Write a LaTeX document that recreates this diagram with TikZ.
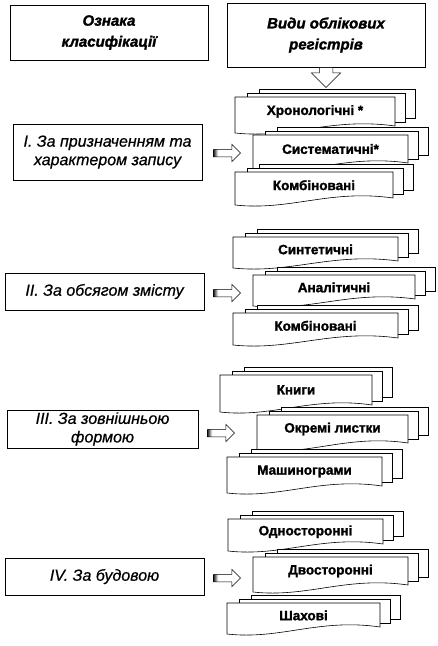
\documentclass[tikz,border=0pt]{standalone}
\usepackage{fontspec}
\setmainfont{Liberation Sans}
\newfontfamily\heavyfont[FakeBold=1.6]{Liberation Sans}
\newfontfamily\thickfont[FakeBold=0.6]{Liberation Sans}
\usetikzlibrary{positioning,shapes.arrows}

% dark tail of the block arrows
\pgfdeclarehorizontalshading{tailshade}{100bp}{color(0bp)=(black!85); color(25bp)=(black!85); color(29bp)=(black!45); color(33bp)=(white); color(100bp)=(white)}

% stacked register sheets: name, x, y top, width, height, text
\newcommand{\regdoc}[6]{%
  \foreach \k in {2,1}{
    \draw[page] ({#2+12*\k},{#3-4*\k}) rectangle ({#2+#4+10*\k},{#3+#5-7-4*\k});
  }
  \draw[page] (#2,#3) -- ({#2+#4},#3) -- ({#2+#4},{#3+#5-7})
    .. controls ({#2+0.6*#4},{#3+#5-16}) and ({#2+0.35*#4},{#3+#5+6}) .. (#2,{#3+#5}) -- cycle;
  \node[doctext] (#1) at ({#2+0.5*#4},{#3+0.4*#5}) {#6};
}

\begin{document}
\begin{tikzpicture}[
  x=1pt, y=-1pt,
  hdr/.style={draw, fill=white, align=center, inner sep=0pt, line width=0.6pt,
    font=\heavyfont\bfseries\itshape\fontsize{15}{21}\selectfont},
  crit/.style={draw, fill=white, align=center, inner sep=0pt, line width=0.6pt,
    font=\thickfont\itshape\fontsize{16}{18.5}\selectfont},
  page/.style={draw, fill=white, line width=0.6pt},
  doctext/.style={font=\heavyfont\bfseries\fontsize{13.5}{15}\selectfont, inner sep=0pt},
  barrow/.style={single arrow, draw, shading=tailshade, line width=0.5pt,
    minimum height=27pt, single arrow head extend=5pt, inner xsep=0pt, inner ysep=3.5pt},
  darrow/.style={single arrow, draw, fill=white, line width=0.5pt, rotate=-90,
    minimum height=20pt, single arrow head extend=8pt, inner xsep=0pt, inner ysep=6.5pt}
]
\useasboundingbox (0,0) rectangle (437,646);

% headers
\node[hdr, minimum width=198pt, minimum height=55pt] (hdr1) at (109,32.5) {Ознака\\класифікації};
\node[hdr, minimum width=198pt, minimum height=64pt] (hdr2) at (326,35) {Види облікових\\регістрів};
\node[darrow, anchor=west] (down) at (hdr2.south) {};

% classification criteria
\node[crit, minimum width=189pt, minimum height=56pt] (critI) at (107.5,152) {І. За призначенням та\\характером запису};
\node[crit, minimum width=199pt, minimum height=37pt] (critII) at (104.5,291.5) {ІІ. За обсягом змісту};
\node[crit, minimum width=191pt, minimum height=38pt] (critIII) at (102.5,429) {ІІІ. За зовнішньою\\формою};
\node[crit, minimum width=199pt, minimum height=37pt] (critIV) at (104.5,576.5) {ІV. За будовою};

% register kinds
\regdoc{chron}{235}{97}{160}{36}{Хронологічні *}
\regdoc{syst}{253}{135}{155}{35}{Систематичні*}
\regdoc{combA}{235}{172}{158}{33}{Комбіновані}
\regdoc{synt}{233}{237}{165}{31}{Синтетичні}
\regdoc{anal}{253}{275}{162}{31}{Аналітичні}
\regdoc{combB}{233}{313}{165}{32}{Комбіновані}
\regdoc{books}{220}{375}{152}{37}{Книги}
\regdoc{sheets}{257}{415}{151}{35}{Окремі листки}
\regdoc{mgram}{227}{457}{155}{36}{Машинограми}
\regdoc{onesd}{228}{519}{155}{32}{Односторонні}
\regdoc{twosd}{253}{557}{155}{35}{Двосторонні}
\regdoc{chess}{227}{603}{153}{31}{Шахові}

% arrows to the groups
\node[barrow, right=11pt of critI, yshift=-1pt] (arI) {};
\node[barrow, right=9pt of critII, yshift=-1.5pt] (arII) {};
\node[barrow, right=9pt of critIII, yshift=-4pt] (arIII) {};
\node[barrow, right=9pt of critIV, yshift=-1.5pt] (arIV) {};
\end{tikzpicture}
\end{document}
